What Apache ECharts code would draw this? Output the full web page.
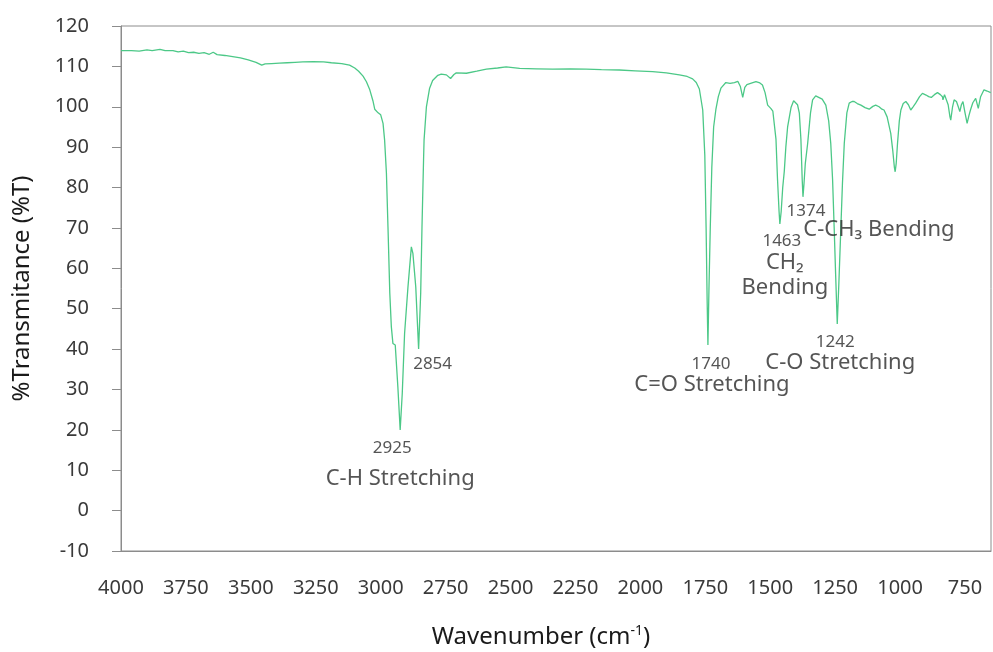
<!DOCTYPE html>
<html>
<head>
<meta charset="utf-8">
<title>FTIR spectrum</title>
<script src="https://cdn.jsdelivr.net/npm/echarts@6/dist/echarts.min.js"></script>
<style>
  html, body { margin: 0; padding: 0; background: #ffffff; }
  #chart { width: 993px; height: 652px; }
</style>
</head>
<body>
<div id="chart"></div>
<script>
// Wavenumber (cm-1), descending
const wavenumbers = [
  4000, 3960, 3930, 3900, 3880, 3850, 3830, 3800, 3780, 3760, 3740, 3720, 3700, 3680, 3660, 3645, 3630,
  3600, 3570, 3540, 3510, 3480, 3458, 3445, 3420, 3390, 3360, 3330, 3300, 3260, 3220, 3190, 3150, 3120,
  3100, 3085, 3068, 3055, 3042, 3030, 3023, 3010, 3000, 2991, 2985, 2978, 2972, 2965, 2959, 2953, 2944,
  2934, 2925, 2917, 2908, 2895, 2882, 2876, 2865, 2854, 2846, 2841, 2835, 2833, 2824, 2812, 2800, 2780,
  2767, 2747, 2731, 2718, 2709, 2670, 2630, 2593, 2550, 2517, 2465, 2400, 2338, 2270, 2209, 2150, 2081,
  2020, 1953, 1900, 1850, 1820, 1799, 1785, 1773, 1760, 1752, 1747, 1743, 1740, 1736, 1731, 1725, 1718,
  1709, 1700, 1690, 1671, 1655, 1638, 1625, 1615, 1606, 1598, 1590, 1570, 1555, 1540, 1530, 1520, 1510,
  1504, 1498, 1490, 1485, 1478, 1472, 1466, 1463, 1458, 1452, 1446, 1440, 1433, 1420, 1410, 1404, 1395,
  1388, 1382, 1377, 1374, 1370, 1365, 1356, 1345, 1337, 1325, 1318, 1300, 1286, 1275, 1267, 1260, 1254,
  1248, 1242, 1236, 1228, 1222, 1215, 1205, 1196, 1185, 1177, 1165, 1151, 1135, 1119, 1105, 1094, 1081,
  1070, 1062, 1050, 1036, 1028, 1022, 1019, 1015, 1010, 1003, 997, 988, 978, 968, 959, 950, 940, 925,
  914, 900, 890, 880, 868, 856, 845, 837, 835, 829, 824, 815, 808, 805, 798, 792, 783, 776, 770, 764,
  758, 750, 742, 735, 729, 720, 709, 699, 690, 677, 665, 651
];

// Transmittance (%T)
const transmittance = [
  113.9, 113.9, 113.8, 114.1, 113.9, 114.2, 113.9, 113.9, 113.6, 113.8, 113.4, 113.5, 113.2, 113.4, 113.0, 113.5, 112.9,
  112.7, 112.4, 112.1, 111.6, 111.0, 110.3, 110.6, 110.7, 110.8, 110.9, 111.0, 111.1, 111.2, 111.1, 110.9, 110.7, 110.3,
  109.6, 108.8, 107.6, 106.2, 104.2, 101.5, 99.4, 98.5, 98.0, 95.9, 91.8, 83.6, 70.3, 53.9, 45.5, 41.4, 41.0,
  30.7, 20.0, 29.0, 43.9, 55.4, 65.3, 63.7, 55.4, 40.0, 53.9, 70.3, 86.8, 91.8, 100.0, 104.5, 106.5, 107.8,
  108.1, 107.9, 107.0, 108.0, 108.4, 108.3, 108.8, 109.3, 109.6, 109.9, 109.5, 109.4, 109.3, 109.4, 109.3, 109.2, 109.1,
  108.9, 108.7, 108.4, 107.9, 107.5, 106.9, 106.0, 104.4, 99.2, 88.0, 70.0, 52.0, 41.0, 55.0, 70.0, 85.0, 95.0,
  99.5, 102.5, 104.6, 106.0, 105.8, 106.0, 106.3, 105.0, 102.3, 104.8, 105.5, 105.9, 106.2, 105.9, 105.4, 103.5, 100.4,
  100.0, 99.6, 98.9, 98.6, 92.0, 82.0, 74.0, 71.0, 74.0, 80.0, 84.0, 90.0, 95.1, 99.8, 101.5, 101.7, 100.5,
  98.4, 92.0, 82.0, 77.7, 81.0, 86.0, 90.9, 98.5, 101.7, 102.7, 102.9, 101.9, 100.4, 96.5, 90.9, 82.0, 70.3,
  58.0, 46.2, 56.0, 70.3, 81.0, 90.9, 98.5, 100.9, 101.3, 101.3, 100.8, 100.4, 99.8, 99.4, 100.1, 100.4, 100.0,
  99.4, 99.2, 97.5, 93.4, 89.0, 85.0, 83.9, 86.0, 90.9, 96.5, 99.2, 100.8, 101.3, 100.5, 99.2, 100.0, 100.9, 102.5,
  103.3, 102.9, 102.5, 102.3, 103.0, 103.5, 103.0, 102.5, 101.7, 103.0, 103.3, 100.5, 97.5, 96.7, 100.0, 101.7, 101.3, 100.0, 98.8, 100.5,
  101.3, 98.5, 95.9, 97.8, 99.2, 101.0, 102.1, 99.6, 102.5, 104.2, 103.9, 103.5
];

// Labelled absorption bands
const peakWavenumbers = [2925, 2854, 1740, 1463, 1374, 1242];
const peakNames = ['C-H Stretching', '', 'C=O Stretching', 'CH₂\nBending', 'C-CH₃ Bending', 'C-O Stretching'];

// Axis tick labels
const xTicks = [4000, 3750, 3500, 3250, 3000, 2750, 2500, 2250, 2000, 1750, 1500, 1250, 1000, 750];

const spectrum = wavenumbers.map((w, i) => [w, transmittance[i]]);
const peakValue = w => transmittance[wavenumbers.indexOf(w)];

// Label centre offsets (px) from each band minimum: [number label, name label]
const labelOffsets = [
  [[-8, 18], [0, 49]],
  [[14, 15], null],
  [[3, 19], [4, 40]],
  [[2, 17], [5, 51]],
  [[3, 14], [76, 33]],
  [[-2, 18], [3, 39]]
];

const textColor = '#2b2b2b';
const fontFamily = '"Noto Sans", "DejaVu Sans", sans-serif';
const markerSize = 2;

const labelItems = [];
peakWavenumbers.forEach((w, i) => {
  const v = peakValue(w);
  const [numOff, nameOff] = labelOffsets[i];
  // position is measured from the marker's top-left corner
  const pos = off => [off[0] + markerSize / 2, off[1] + markerSize / 2];
  labelItems.push({
    value: [w, v],
    label: { formatter: String(w), position: pos(numOff), fontSize: 17 }
  });
  if (peakNames[i]) {
    labelItems.push({
      value: [w, v],
      label: { formatter: peakNames[i], position: pos(nameOff), fontSize: 22, lineHeight: 25 }
    });
  }
});

const chart = echarts.init(document.getElementById('chart'), null, { renderer: 'canvas' });
chart.setOption({
  backgroundColor: '#ffffff',
  animation: false,
  textStyle: { fontFamily: fontFamily },
  grid: {
    left: 121, right: 2, top: 26, bottom: 101,
    outerBoundsMode: 'none',
    containLabel: false,
    show: true, borderColor: '#8c8c8c', borderWidth: 1, backgroundColor: 'transparent'
  },
  xAxis: {
    type: 'value',
    min: 650,
    max: 4000,
    inverse: true,
    name: 'Wavenumber (cm{sup|-1})',
    nameLocation: 'middle',
    nameGap: 73,
    nameTextStyle: {
      color: '#1a1a1a', fontSize: 24, fontFamily: fontFamily, lineHeight: 27,
      padding: [0, 30, 0, 0],
      rich: { sup: { fontSize: 14, verticalAlign: 'top', lineHeight: 14, color: '#1a1a1a' } }
    },
    axisLine: { show: true, onZero: false, lineStyle: { color: '#8c8c8c', width: 1 } },
    axisTick: { show: false },
    splitLine: { show: false },
    axisLabel: {
      customValues: xTicks,
      formatter: v => String(v),
      color: '#3a3a3a', fontSize: 20, margin: 27, fontFamily: fontFamily
    }
  },
  yAxis: {
    type: 'value',
    min: -10,
    max: 120,
    interval: 10,
    name: '%Transmitance (%T)',
    nameLocation: 'middle',
    nameGap: 87,
    nameTextStyle: { color: '#1a1a1a', fontSize: 24, fontFamily: fontFamily },
    axisLine: { show: true, onZero: false, lineStyle: { color: '#8c8c8c', width: 1 } },
    axisTick: { show: true, inside: false, length: 9, lineStyle: { color: '#8c8c8c' } },
    splitLine: { show: false },
    axisLabel: { color: '#3a3a3a', fontSize: 20, margin: 32, fontFamily: fontFamily }
  },
  series: [
    {
      name: 'Transmittance',
      type: 'line',
      data: spectrum,
      showSymbol: false,
      smooth: false,
      lineStyle: { color: '#4cc887', width: 1.3 },
      z: 3
    },
    {
      name: 'Band labels',
      type: 'scatter',
      data: labelItems,
      symbolSize: markerSize,
      itemStyle: { color: 'rgba(0,0,0,0)' },
      silent: true,
      labelLayout: { hideOverlap: false },
      label: {
        show: true,
        color: textColor,
        fontFamily: fontFamily,
        align: 'center',
        verticalAlign: 'middle'
      },
      z: 4
    }
  ]
});
</script>
</body>
</html>
